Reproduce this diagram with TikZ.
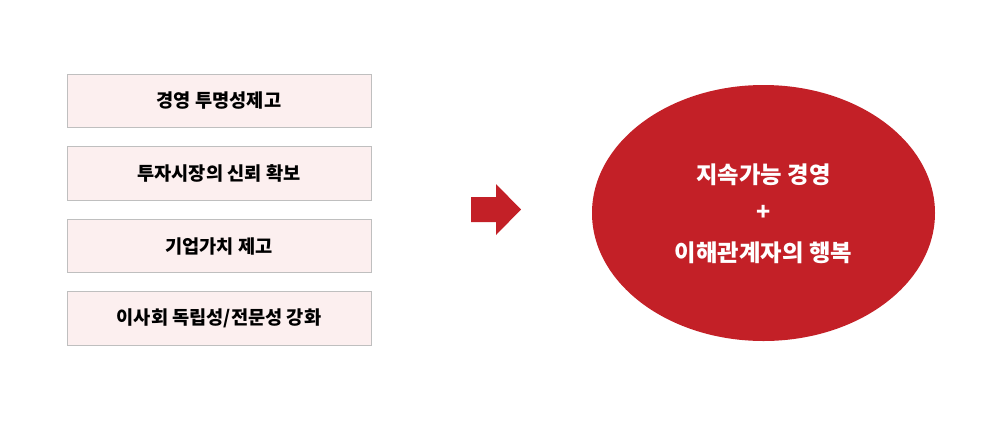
\documentclass[tikz,border=0pt]{standalone}
\usepackage{fontspec}
\setmainfont{Noto Sans CJK KR}
\usepackage{tikz}
\usetikzlibrary{positioning}

\definecolor{boxfill}{HTML}{FCEFEF}
\definecolor{boxline}{HTML}{BFBFBF}
\definecolor{mainred}{HTML}{C32027}

\tikzset{
  item/.style={draw=boxline, fill=boxfill, line width=0.75pt,
    minimum width=228pt, minimum height=40pt, inner sep=0pt,
    font=\fontsize{14pt}{16pt}\selectfont\bfseries},
  goaltext/.style={text=white, font=\fontsize{17.5pt}{20pt}\selectfont\bfseries}
}

\begin{document}
\begin{tikzpicture}[x=0.75pt, y=-0.75pt]
  \useasboundingbox (0,0) rectangle (1001,426);

  \node[item] (b1) at (219,101) {경영 투명성제고};
  \node[item] (b2) at (219,173.5) {투자시장의 신뢰 확보};
  \node[item] (b3) at (219,246) {기업가치 제고};
  \node[item] (b4) at (219,318.5) {이사회 독립성/전문성 강화};

  % arrow
  \fill[mainred] (471,197) -- (496,197) -- (496,184) -- (521,209.5)
    -- (496,235) -- (496,222) -- (471,222) -- cycle;

  % goal
  \fill[mainred] (763.5,213) ellipse [x radius=171.5, y radius=128];
  \node[goaltext] (g1) at (763.5,175) {지속가능 경영};
  \node[goaltext] (g2) at (763.5,213) {+};
  \node[goaltext] (g3) at (763.5,253) {이해관계자의 행복};
\end{tikzpicture}
\end{document}
